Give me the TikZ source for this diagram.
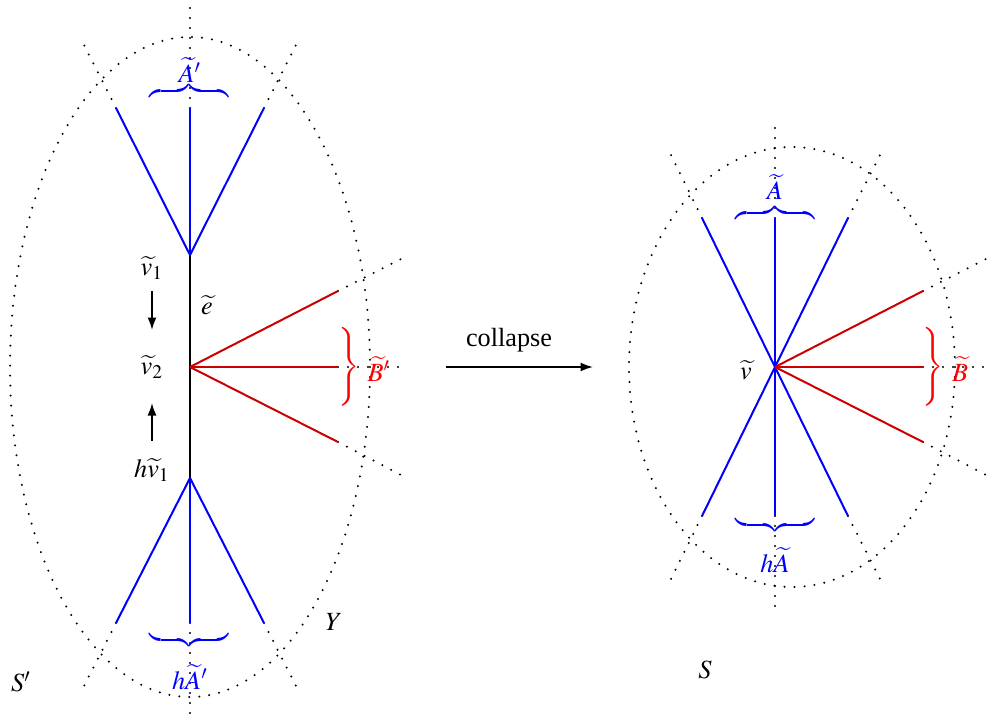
\documentclass[tikz,border=0pt]{standalone}
\usepackage{mathptmx}
\usepackage{fontspec}
\setmainfont{Liberation Serif}
\usetikzlibrary{arrows.meta}
\definecolor{rline}{RGB}{204,0,0}
\definecolor{rtext}{RGB}{255,0,0}
\definecolor{bline}{RGB}{0,0,255}
\newcommand{\myupbrace}{\hbox to 31.5pt{\downbracefill}}
\newcommand{\mydownbrace}{\hbox to 31.5pt{\upbracefill}}
\begin{document}
\begin{tikzpicture}[x=0.4pt,y=-0.4pt,
  dots/.style={line width=0.9pt, dash pattern=on 0pt off 4pt, line cap=round},
  bluel/.style={bline, line width=0.8pt},
  redl/.style={rline, line width=0.8pt},
  blackl/.style={black, line width=0.8pt},
  lbl/.style={inner sep=0pt, font=\fontsize{10.5pt}{12pt}\selectfont},
  brc/.style={inner sep=0pt},
  arr/.style={black, line width=0.7pt, -{Latex[length=5pt,width=3.6pt]}}]
\useasboundingbox (0,0) rectangle (997,726);

% ---------- left figure ----------
\coordinate (LT) at (190,255);
\coordinate (LC) at (190,367);
\coordinate (LB) at (190,478);
\coordinate (a1) at (116,108); \coordinate (a2) at (190,108); \coordinate (a3) at (264,108);
\coordinate (a1x) at (83,43);  \coordinate (a2x) at (190,6);  \coordinate (a3x) at (297,43);
\coordinate (b1) at (116,623); \coordinate (b2) at (190,623); \coordinate (b3) at (264,623);
\coordinate (b1x) at (83,688); \coordinate (b2x) at (190,723); \coordinate (b3x) at (297,688);
\coordinate (r1) at (338,291); \coordinate (r2) at (338,367); \coordinate (r3) at (338,442);
\coordinate (r1x) at (403,258); \coordinate (r2x) at (402,367); \coordinate (r3x) at (403,476);

\draw[dots] (190,367) ellipse [x radius=180, y radius=330];
\draw[dots] (a1) -- (a1x);
\draw[dots] (a2) -- (a2x);
\draw[dots] (a3) -- (a3x);
\draw[dots] (b1) -- (b1x);
\draw[dots] (b2) -- (b2x);
\draw[dots] (b3) -- (b3x);
\draw[dots] (r1) -- (r1x);
\draw[dots] (r2) -- (r2x);
\draw[dots] (r3) -- (r3x);

\draw[blackl] (LT) -- (LB);
\draw[bluel] (LT) -- (a1);
\draw[bluel] (LT) -- (a2);
\draw[bluel] (LT) -- (a3);
\draw[bluel] (LB) -- (b1);
\draw[bluel] (LB) -- (b2);
\draw[bluel] (LB) -- (b3);
\draw[redl] (LC) -- (r1);
\draw[redl] (LC) -- (r2);
\draw[redl] (LC) -- (r3);

\node[brc, text=bline] (braceA) at (189,91) {\myupbrace};
\node[brc, text=bline] (braceB) at (189,640) {\mydownbrace};
\node[brc, text=rtext, font=\fontsize{10.5pt}{12pt}\selectfont] (braceR) at (349,367) {$\Bigg\}$};

\node[lbl, text=bline] (Ap) at (190,70) {$\widetilde{A}'$};
\node[lbl, text=bline] (hAp) at (190,677) {$h\widetilde{A}'$};
\node[lbl, text=rtext] (Bp) at (379,369) {$\widetilde{B}'$};
\node[lbl] (v1) at (152,268) {$\widetilde{v}_1$};
\node[lbl] (v2) at (152,367) {$\widetilde{v}_2$};
\node[lbl] (hv1) at (152,470) {$h\widetilde{v}_1$};
\node[lbl] (e) at (207,305) {$\widetilde{e}$};
\node[lbl] (Y) at (334,622) {$Y$};
\node[lbl] (Sp) at (21,682) {$S'$};

\coordinate (d1) at (152,291); \coordinate (d2) at (152,330);
\coordinate (u1) at (152,441); \coordinate (u2) at (152,403);
\draw[arr] (d1) -- (d2);
\draw[arr] (u1) -- (u2);

% ---------- collapse arrow ----------
\coordinate (c1) at (446,367); \coordinate (c2) at (593,367);
\draw[arr] (c1) -- (c2);
\node[lbl] (col) at (509,340) {collapse};

% ---------- right figure ----------
\coordinate (V) at (775,367);
\coordinate (p1) at (702,218); \coordinate (p2) at (775,218); \coordinate (p3) at (848,218);
\coordinate (q1) at (702,516); \coordinate (q2) at (775,516); \coordinate (q3) at (848,516);
\coordinate (p1x) at (670,153); \coordinate (p2x) at (775,124); \coordinate (p3x) at (881,153);
\coordinate (q1x) at (670,581); \coordinate (q2x) at (775,612); \coordinate (q3x) at (881,581);
\coordinate (s1) at (923,291); \coordinate (s2) at (923,367); \coordinate (s3) at (923,442);
\coordinate (s1x) at (988,258); \coordinate (s2x) at (988,367); \coordinate (s3x) at (988,476);

\draw[dots] (792,367) ellipse [x radius=163, y radius=220];
\draw[dots] (p1) -- (p1x);
\draw[dots] (p2) -- (p2x);
\draw[dots] (p3) -- (p3x);
\draw[dots] (q1) -- (q1x);
\draw[dots] (q2) -- (q2x);
\draw[dots] (q3) -- (q3x);
\draw[dots] (s1) -- (s1x);
\draw[dots] (s2) -- (s2x);
\draw[dots] (s3) -- (s3x);

\draw[bluel] (p1) -- (q3);
\draw[bluel] (p3) -- (q1);
\draw[bluel] (p2) -- (q2);
\draw[redl] (V) -- (s1);
\draw[redl] (V) -- (s2);
\draw[redl] (V) -- (s3);

\node[brc, text=bline] (braceC) at (775,213) {\myupbrace};
\node[brc, text=bline] (braceD) at (775,525) {\mydownbrace};
\node[brc, text=rtext, font=\fontsize{10.5pt}{12pt}\selectfont] (braceS) at (933,367) {$\Bigg\}$};

\node[lbl, text=bline] (A) at (775,187) {$\widetilde{A}$};
\node[lbl, text=bline] (hA) at (775,560) {$h\widetilde{A}$};
\node[lbl, text=rtext] (B) at (960,369) {$\widetilde{B}$};
\node[lbl] (v) at (746,370) {$\widetilde{v}$};
\node[lbl] (S) at (705,670) {$S$};
\end{tikzpicture}
\end{document}
